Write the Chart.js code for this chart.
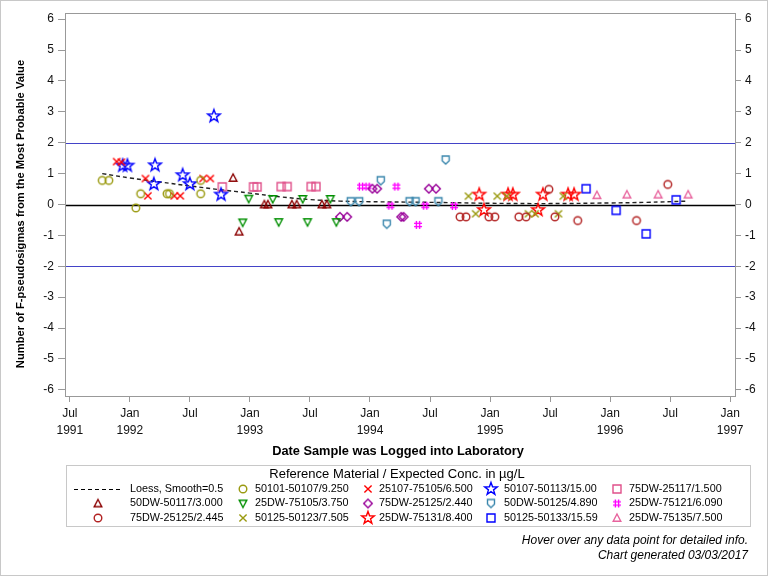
<!DOCTYPE html>
<html>
<head>
<meta charset="utf-8">
<script src="https://cdn.jsdelivr.net/npm/chart.js@4/dist/chart.umd.min.js"></script>
<style>
  body { margin: 0; background: #fff; }
  canvas { display: block; }
</style>
</head>
<body>
<canvas id="qcChart" width="768" height="576"></canvas>
<script>
// dates are fractional years (1992.0 = Jan 1992)
const seriesNames = [
  '50101-50107/9.250', '25107-75105/6.500', '50107-50113/15.00', '75DW-25117/1.500',
  '50DW-50117/3.000', '25DW-75105/3.750', '75DW-25125/2.440', '50DW-50125/4.890', '25DW-75121/6.090',
  '75DW-25125/2.445', '50125-50123/7.505', '25DW-75131/8.400', '50125-50133/15.59', '25DW-75135/7.500'
];
const seriesDates = [
  [1991.77, 1991.825, 1992.05, 1992.09, 1992.31, 1992.33, 1992.59, 1992.59],
  [1991.89, 1991.93, 1992.13, 1992.15, 1992.37, 1992.42, 1992.61, 1992.67],
  [1991.94, 1991.98, 1992.20, 1992.21, 1992.44, 1992.50, 1992.70, 1992.76],
  [1992.77, 1993.03, 1993.06, 1993.26, 1993.31, 1993.51, 1993.55],
  [1992.86, 1992.91, 1993.12, 1993.15, 1993.35, 1993.39, 1993.60, 1993.64],
  [1992.94, 1992.99, 1993.19, 1993.24, 1993.44, 1993.48, 1993.67, 1993.72],
  [1993.75, 1993.81, 1994.02, 1994.06, 1994.26, 1994.28, 1994.49, 1994.55],
  [1993.84, 1993.91, 1994.09, 1994.14, 1994.33, 1994.38, 1994.57, 1994.63],
  [1993.925, 1993.98, 1994.17, 1994.22, 1994.40, 1994.46, 1994.70],
  [1994.75, 1994.80, 1994.99, 1995.04, 1995.24, 1995.30, 1995.49, 1995.54, 1995.73, 1996.22, 1996.48],
  [1994.82, 1994.88, 1995.06, 1995.14, 1995.32, 1995.375, 1995.57, 1995.61],
  [1994.91, 1994.95, 1995.15, 1995.19, 1995.40, 1995.44, 1995.65, 1995.70],
  [1995.80, 1996.05, 1996.30, 1996.55],
  [1995.89, 1996.14, 1996.40, 1996.65]
];
const seriesValues = [
  [0.78, 0.78, -0.11, 0.35, 0.35, 0.35, 0.78, 0.35],
  [1.39, 1.37, 0.84, 0.28, 0.28, 0.28, 0.84, 0.84],
  [1.26, 1.26, 0.66, 1.27, 0.95, 0.66, 2.86, 0.32],
  [0.57, 0.57, 0.57, 0.58, 0.58, 0.58, 0.58],
  [0.86, -0.88, 0.0, 0.0, 0.0, 0.0, 0.0, 0.0],
  [-0.58, 0.19, 0.18, -0.57, 0.18, -0.57, 0.18, -0.57],
  [-0.40, -0.40, 0.51, 0.51, -0.40, -0.40, 0.51, 0.51],
  [0.09, 0.09, 0.77, -0.64, 0.09, 0.09, 0.09, 1.44],
  [0.58, 0.58, -0.04, 0.58, -0.66, -0.04, -0.05],
  [-0.40, -0.40, -0.40, -0.40, -0.40, -0.40, 0.49, -0.40, -0.52, -0.52, 0.65],
  [0.27, -0.30, 0.27, 0.27, -0.30, -0.30, -0.30, 0.27],
  [0.32, -0.18, 0.32, 0.32, -0.18, 0.32, 0.32, 0.32],
  [0.51, -0.19, -0.95, 0.15],
  [0.30, 0.32, 0.32, 0.32]
];
const loessDates = [1991.77, 1992.0, 1992.25, 1992.5, 1992.75, 1993.0, 1993.25, 1993.5, 1993.75, 1994.0, 1994.5, 1995.0, 1995.5, 1996.0, 1996.3, 1996.65];
const loessValues = [1.0, 0.86, 0.73, 0.60, 0.48, 0.37, 0.25, 0.16, 0.11, 0.09, 0.07, 0.04, 0.03, 0.05, 0.07, 0.11];

const xTickValues = [1991.5, 1992, 1992.5, 1993, 1993.5, 1994, 1994.5, 1995, 1995.5, 1996, 1996.5, 1997];
const xTickLabels = [['Jul', '1991'], ['Jan', '1992'], ['Jul', ''], ['Jan', '1993'], ['Jul', ''], ['Jan', '1994'],
  ['Jul', ''], ['Jan', '1995'], ['Jul', ''], ['Jan', '1996'], ['Jul', ''], ['Jan', '1997']];
const yTickValues = [-6, -5, -4, -3, -2, -1, 0, 1, 2, 3, 4, 5, 6];

// marker look for each series
const markerShapes = ['circle', 'x', 'star', 'square', 'triangle', 'downtri', 'diamond', 'shield', 'hash',
  'circle', 'x', 'star', 'square', 'triangle'];
const markerColors = ['#9a9a10', '#ff0000', '#0000ff', '#e0508a', '#8b0000', '#008f00', '#990099', '#3a87ad', '#ff00ff',
  '#b22222', '#9a9a10', '#ff0000', '#0000ff', '#e8649e'];

function makeMarker(shape, color) {
  const big = shape === 'star';
  const s = big ? 18 : 14;
  const c = document.createElement('canvas');
  c.width = s; c.height = s;
  const g = c.getContext('2d');
  g.translate(s / 2, s / 2);
  g.strokeStyle = color;
  g.lineWidth = 1.4;
  g.lineJoin = 'miter';
  g.beginPath();
  if (shape === 'circle') {
    g.arc(0, 0, 3.8, 0, Math.PI * 2);
  } else if (shape === 'x') {
    g.moveTo(-3.6, -3.6); g.lineTo(3.6, 3.6); g.moveTo(3.6, -3.6); g.lineTo(-3.6, 3.6);
  } else if (shape === 'star') {
    for (let i = 0; i < 10; i++) {
      const r = i % 2 === 0 ? 6.6 : 2.7;
      const a = -Math.PI / 2 + i * Math.PI / 5;
      const px = r * Math.cos(a), py = r * Math.sin(a);
      if (i === 0) g.moveTo(px, py); else g.lineTo(px, py);
    }
    g.closePath();
  } else if (shape === 'square') {
    g.rect(-4, -4, 8, 8);
  } else if (shape === 'triangle') {
    g.moveTo(0, -4); g.lineTo(3.8, 3.2); g.lineTo(-3.8, 3.2); g.closePath();
  } else if (shape === 'downtri') {
    g.moveTo(0, 4); g.lineTo(3.8, -3.2); g.lineTo(-3.8, -3.2); g.closePath();
  } else if (shape === 'diamond') {
    g.moveTo(0, -4.3); g.lineTo(4.3, 0); g.lineTo(0, 4.3); g.lineTo(-4.3, 0); g.closePath();
  } else if (shape === 'shield') {
    g.moveTo(-3.5, -4); g.lineTo(3.5, -4); g.lineTo(3.5, 0.8); g.lineTo(0, 4); g.lineTo(-3.5, 0.8); g.closePath();
  } else if (shape === 'hash') {
    g.moveTo(-1.6, -4); g.lineTo(-1.6, 4); g.moveTo(1.6, -4); g.lineTo(1.6, 4);
    g.moveTo(-4, -1.6); g.lineTo(4, -1.6); g.moveTo(-4, 1.6); g.lineTo(4, 1.6);
  }
  g.stroke();
  return c;
}
const markers = markerShapes.map((sh, i) => makeMarker(sh, markerColors[i]));

const datasets = seriesNames.map((name, i) => ({
  label: name,
  data: seriesDates[i].map((t, j) => ({ x: t, y: seriesValues[i][j] })),
  pointStyle: markers[i],
  pointRadius: 5,
  showLine: false,
  order: 1
}));
datasets.push({
  label: 'Loess, Smooth=0.5',
  data: loessDates.map((t, j) => ({ x: t, y: loessValues[j] })),
  showLine: true,
  borderColor: '#222222',
  borderWidth: 1.4,
  borderDash: [4, 3],
  pointRadius: 0,
  tension: 0.4,
  order: 2
});

const FONT = '"Liberation Sans", Arial, sans-serif';

const extras = {
  id: 'extras',
  beforeDraw(chart) {
    const ctx = chart.ctx;
    ctx.save();
    ctx.fillStyle = '#fff';
    ctx.fillRect(0, 0, chart.width, chart.height);
    ctx.strokeStyle = '#c8c8c8';
    ctx.lineWidth = 1;
    ctx.strokeRect(0.5, 0.5, chart.width - 1, chart.height - 1);
    ctx.restore();
  },
  beforeDatasetsDraw(chart) {
    const { ctx, chartArea: a, scales } = chart;
    const y = scales.y;
    ctx.save();
    [[2, '#4343c8', 1.2], [-2, '#4343c8', 1.2], [0, '#000', 1.5]].forEach(([v, col, w]) => {
      const py = Math.round(y.getPixelForValue(v)) + 0.5;
      ctx.strokeStyle = col;
      ctx.lineWidth = w;
      ctx.beginPath();
      ctx.moveTo(a.left, py);
      ctx.lineTo(a.right, py);
      ctx.stroke();
    });
    ctx.restore();
  },
  afterDraw(chart) {
    const { ctx, chartArea: a } = chart;
    ctx.save();
    ctx.strokeStyle = '#999';
    ctx.lineWidth = 1;
    ctx.strokeRect(a.left + 0.5, a.top + 0.5, a.right - a.left, a.bottom - a.top);

    ctx.fillStyle = '#000';
    ctx.textAlign = 'center';
    ctx.textBaseline = 'middle';
    ctx.font = 'bold 12.8px ' + FONT;
    ctx.fillText('Date Sample was Logged into Laboratory', 398, 451);
    ctx.save();
    ctx.translate(21, 214);
    ctx.rotate(-Math.PI / 2);
    ctx.font = 'bold 11.2px ' + FONT;
    ctx.fillText('Number of F-pseudosigmas from the Most Probable Value', 0, 0);
    ctx.restore();

    // legend box
    ctx.strokeStyle = '#c8c8c8';
    ctx.strokeRect(66.5, 465.5, 684, 61);
    ctx.font = '13px ' + FONT;
    ctx.fillText('Reference Material / Expected Conc. in \u00b5g/L', 397, 474);
    const symX = [98, 243, 368, 491, 617];
    const txtX = [130, 255, 379, 504, 629];
    const rowY = [489, 503.5, 518];
    ctx.textAlign = 'left';
    ctx.font = '10.8px ' + FONT;
    // loess entry
    ctx.strokeStyle = '#000';
    ctx.lineWidth = 1;
    ctx.setLineDash([4, 3]);
    ctx.beginPath();
    ctx.moveTo(74, rowY[0] + 0.5);
    ctx.lineTo(120, rowY[0] + 0.5);
    ctx.stroke();
    ctx.setLineDash([]);
    ctx.fillText('Loess, Smooth=0.5', txtX[0], rowY[0]);
    seriesNames.forEach((name, i) => {
      const slot = i + 1;
      const row = Math.floor(slot / 5), col = slot % 5;
      const m = markers[i];
      ctx.drawImage(m, symX[col] - m.width / 2, rowY[row] - m.height / 2);
      ctx.fillText(name, txtX[col], rowY[row]);
    });

    ctx.font = 'italic 12px ' + FONT;
    ctx.textAlign = 'right';
    ctx.fillText('Hover over any data point for detailed info.', 748, 541);
    ctx.fillText('Chart generated 03/03/2017', 748, 556);
    ctx.restore();
  }
};

const yTickOpts = {
  color: '#111',
  font: { family: FONT, size: 12 },
  padding: 4
};

new Chart(document.getElementById('qcChart').getContext('2d'), {
  type: 'scatter',
  data: { datasets: datasets },
  options: {
    responsive: false,
    animation: false,
    devicePixelRatio: 1,
    layout: { padding: { top: 13, left: 0, right: 0, bottom: 0 } },
    plugins: {
      legend: { display: false },
      title: { display: false }
    },
    scales: {
      x: {
        type: 'linear',
        min: 1991.46,
        max: 1997.04,
        afterBuildTicks: (scale) => { scale.ticks = xTickValues.map(v => ({ value: v })); },
        afterFit: (scale) => { scale.height = 180; },
        grid: { display: true, drawOnChartArea: false, drawTicks: true, tickLength: 6, color: '#999' },
        border: { display: false },
        ticks: {
          color: '#111',
          font: { family: FONT, size: 12, lineHeight: 1.45 },
          padding: 3,
          maxRotation: 0,
          autoSkip: false,
          callback: (v, i) => xTickLabels[i]
        }
      },
      y: {
        position: 'left',
        min: -6.2,
        max: 6.2,
        afterBuildTicks: (scale) => { scale.ticks = yTickValues.map(v => ({ value: v })); },
        afterFit: (scale) => { scale.width = 65; },
        grid: { display: true, drawOnChartArea: false, drawTicks: true, tickLength: 7, color: '#999' },
        border: { display: false },
        ticks: yTickOpts
      },
      y2: {
        position: 'right',
        min: -6.2,
        max: 6.2,
        afterBuildTicks: (scale) => { scale.ticks = yTickValues.map(v => ({ value: v })); },
        afterFit: (scale) => { scale.width = 33; },
        grid: { display: true, drawOnChartArea: false, drawTicks: true, tickLength: 6, color: '#999' },
        border: { display: false },
        ticks: yTickOpts
      }
    }
  },
  plugins: [extras]
});
</script>
</body>
</html>
